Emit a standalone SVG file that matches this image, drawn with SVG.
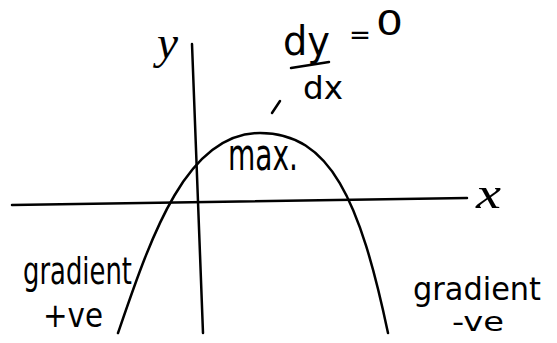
<svg xmlns="http://www.w3.org/2000/svg" width="557" height="343" viewBox="0 0 557 343">
<style>
.ln{fill:none;stroke:#000;stroke-width:2.5;stroke-linecap:round;stroke-linejoin:round}
.t{font-family:"DejaVu Sans","Liberation Sans",sans-serif;fill:#000}
.v{font-family:"Liberation Serif",serif;font-style:italic;fill:#000}
</style>
<rect width="557" height="343" fill="#fff"/>
<g id="axes">
<path class="ln" d="M192,44 L203,333"/>
<path class="ln" d="M12,205 L467,198"/>
</g>
<g id="curve">
<path class="ln" d="M118,333 C150,240 185,133 260,133 C330,133 360,200 388,333"/>
</g>
<g id="labels">
<text class="v" x="157" y="58" font-size="46" textLength="21" lengthAdjust="spacingAndGlyphs">y</text>
<text class="v" x="476" y="208" font-size="44" textLength="25" lengthAdjust="spacingAndGlyphs">x</text>
<text class="t" x="283" y="55" font-size="40" textLength="47" lengthAdjust="spacingAndGlyphs">dy</text>
<path class="ln" d="M291,68 L329,62"/>
<text class="t" x="303" y="99" font-size="32" textLength="40" lengthAdjust="spacingAndGlyphs">dx</text>
<text class="t" x="349" y="44" font-size="26" textLength="22" lengthAdjust="spacingAndGlyphs">=</text>
<text class="t" x="376" y="35" font-size="34" textLength="27" lengthAdjust="spacingAndGlyphs">0</text>
<path class="ln" d="M272,113 L280,101"/>
<text class="t" x="228" y="170" font-size="44" textLength="70" lengthAdjust="spacingAndGlyphs">max.</text>
<text class="t" x="23" y="284" font-size="38" textLength="109" lengthAdjust="spacingAndGlyphs">gradient</text>
<text class="t" x="43" y="327" font-size="34" textLength="60" lengthAdjust="spacingAndGlyphs">+ve</text>
<text class="t" x="413" y="300" font-size="32" textLength="128" lengthAdjust="spacingAndGlyphs">gradient</text>
<text class="t" x="452" y="331" font-size="26" textLength="52" lengthAdjust="spacingAndGlyphs">-ve</text>
</g>
</svg>
